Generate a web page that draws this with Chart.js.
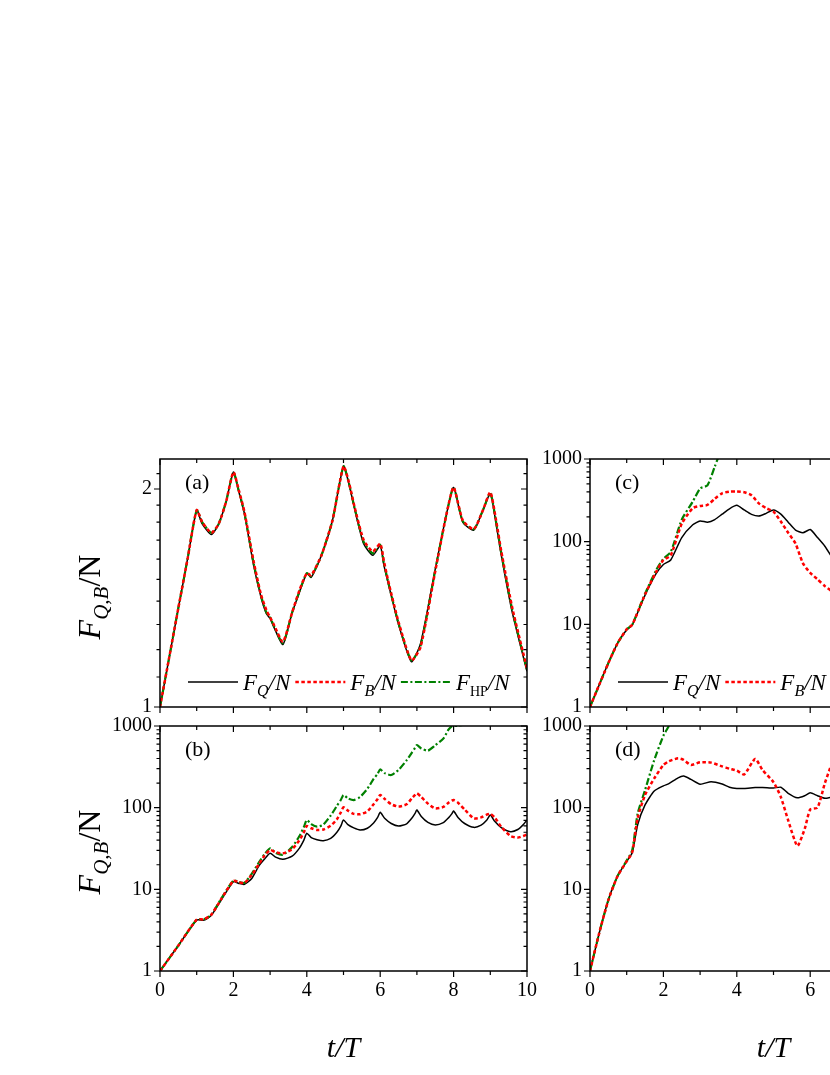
<!DOCTYPE html>
<html>
<head>
<meta charset="utf-8">
<script src="https://cdn.jsdelivr.net/npm/chart.js@4"></script>
<style>
  html, body { margin: 0; padding: 0; background: #fff; overflow: hidden; }
  canvas { position: absolute; left: 0; top: 0; }
</style>
</head>
<body>
<canvas id="pa" width="830" height="1075"></canvas>
<canvas id="pb" width="830" height="1075"></canvas>
<canvas id="pc" width="830" height="1075"></canvas>
<canvas id="pd" width="830" height="1075"></canvas>
<script>
// ---- data (t/T and F/N values) ----
const tA = [0, 0.25, 0.5, 0.75, 1, 1.15, 1.4, 1.6, 1.8, 2, 2.15, 2.3, 2.55, 2.75, 2.9, 3, 3.1, 3.35, 3.6, 3.8,
  4, 4.12, 4.4, 4.7, 5, 5.15, 5.3, 5.55, 5.8, 6, 6.1, 6.25, 6.5, 6.85, 7.1, 7.5, 7.8, 8, 8.25, 8.55, 8.8, 9, 9.15, 9.3, 9.6, 10];
const fqA = [1, 1.17, 1.37, 1.6, 1.87, 1.79, 1.73, 1.79, 1.92, 2.11, 1.98, 1.85, 1.57, 1.42, 1.345, 1.325, 1.29, 1.22, 1.35, 1.44,
  1.53, 1.51, 1.62, 1.81, 2.15, 2.03, 1.88, 1.68, 1.62, 1.67, 1.57, 1.46, 1.30, 1.155, 1.224, 1.55, 1.84, 2.01, 1.80, 1.755, 1.87, 1.97, 1.80, 1.62, 1.35, 1.12];
const fbA = [1, 1.17, 1.37, 1.6, 1.87, 1.80, 1.74, 1.79, 1.92, 2.11, 1.99, 1.86, 1.59, 1.43, 1.36, 1.33, 1.30, 1.23, 1.35, 1.45,
  1.53, 1.52, 1.62, 1.81, 2.15, 2.04, 1.89, 1.70, 1.64, 1.68, 1.59, 1.47, 1.31, 1.16, 1.21, 1.54, 1.84, 2.01, 1.81, 1.76, 1.87, 1.98, 1.82, 1.64, 1.37, 1.13];
const fhpA = [1, 1.17, 1.37, 1.6, 1.87, 1.80, 1.74, 1.79, 1.92, 2.11, 1.985, 1.855, 1.58, 1.425, 1.35, 1.33, 1.295, 1.225, 1.35, 1.445,
  1.53, 1.515, 1.62, 1.81, 2.15, 2.035, 1.885, 1.69, 1.63, 1.675, 1.58, 1.465, 1.305, 1.16, 1.215, 1.545, 1.84, 2.01, 1.805, 1.76, 1.87, 1.975, 1.81, 1.63, 1.36, 1.125];

const tB = [0, 0.5, 1, 1.2, 1.4, 1.66, 2, 2.15, 2.3, 2.5, 2.7, 2.85, 3, 3.15, 3.35, 3.6, 3.8, 3.92, 4, 4.12,
  4.28, 4.45, 4.65, 4.82, 4.93, 5, 5.12, 5.28, 5.45, 5.65, 5.82, 5.93, 6, 6.12, 6.3, 6.5, 6.72, 6.86, 6.95, 7,
  7.12, 7.3, 7.5, 7.72, 7.86, 7.95, 8, 8.12, 8.3, 8.55, 8.75, 8.9, 9, 9.12, 9.3, 9.55, 9.75, 9.9, 10];
const fqB = [1, 2.05, 4.2, 4.2, 4.8, 7.3, 12.4, 11.8, 11.5, 13.6, 19.5, 23.5, 27.6, 24.8, 23.3, 25.5, 32, 40, 48.5, 43,
  40.5, 39.4, 42, 50, 60, 70.6, 62, 56.5, 53.3, 56, 65, 76, 87.7, 74, 64, 59.6, 63.5, 74, 85, 93.6,
  78, 66, 61.3, 65.5, 75, 84, 91, 76, 64, 57.4, 61, 70, 81.3, 68, 57, 50.8, 54, 62, 70.6];
const fbB = [1, 2.05, 4.25, 4.3, 4.9, 7.5, 12.7, 12.2, 12.0, 15, 20.5, 26, 30.3, 28.5, 27.6, 31, 40, 50, 59.7, 56,
  53.3, 54, 60, 72, 88, 101, 92, 84, 83, 90, 110, 128, 143, 128, 110, 103, 110, 130, 143, 150,
  135, 112, 98, 102, 115, 122, 124, 115, 95, 74, 76, 82, 84, 76, 58, 45, 43, 45, 47];
const fhpB = [1, 2.05, 4.25, 4.3, 4.9, 7.6, 12.8, 12.3, 12.0, 15.5, 21.5, 27, 31.8, 28, 26.5, 33, 45, 58, 70.6, 63,
  58.5, 62, 80, 105, 125, 143, 130, 124, 135, 170, 225, 260, 295, 265, 251, 290, 380, 470, 540, 585,
  530, 499, 580, 700, 900, 990, 1000, 1010, 1050, 1400, null, null, null, null, null, null, null, null, null];

const tC = [0, 0.25, 0.5, 0.75, 1, 1.15, 1.5, 1.8, 2, 2.2, 2.5, 2.8, 3, 3.2, 3.4, 3.6, 3.8, 4, 4.2, 4.4,
  4.6, 4.8, 5, 5.2, 5.4, 5.6, 5.8, 6, 6.2, 6.4, 6.6];
const fqC = [1, 1.85, 3.4, 5.9, 8.6, 9.8, 22.6, 41, 53, 60, 112, 160, 178, 172, 185, 215, 250, 275, 242, 214,
  204, 220, 242, 215, 172, 138, 128, 140, 112, 88, 64];
const fbC = [1, 1.85, 3.4, 5.9, 8.7, 9.9, 23, 43, 60, 68, 165, 255, 270, 278, 330, 385, 403, 405, 396, 365,
  291, 254, 231, 175, 128, 95, 55, 42, 35, 29, 25];
const fhpC = [1, 1.85, 3.4, 5.9, 8.7, 9.9, 23.5, 45, 62, 75, 185, 305, 440, 480, 810, 1400, null, null, null, null,
  null, null, null, null, null, null, null, null, null, null, null];

const tD = [0, 0.25, 0.5, 0.75, 1, 1.15, 1.3, 1.5, 1.75, 2, 2.15, 2.4, 2.55, 2.75, 3, 3.3, 3.6, 3.8, 4, 4.2,
  4.5, 4.7, 5, 5.2, 5.4, 5.65, 5.85, 6, 6.2, 6.4, 6.6];
const fqD = [1, 2.9, 7.4, 14.5, 22, 28, 62, 108, 160, 185, 197, 232, 244, 222, 194, 208, 195, 178, 172, 172,
  176, 177, 174, 178, 150, 132, 140, 152, 140, 130, 135];
const fbD = [1, 2.9, 7.4, 14.5, 22, 28.5, 75, 143, 228, 333, 370, 402, 385, 333, 360, 356, 320, 300, 284, 255,
  395, 290, 205, 135, 70, 34, 55, 95, 100, 200, 360];
const fhpD = [1, 2.9, 7.4, 14.5, 22.5, 30, 85, 164, 383, 760, 1000, 1700, null, null, null, null, null, null, null, null,
  null, null, null, null, null, null, null, null, null, null, null];

const xMajor = [0, 2, 4, 6, 8, 10];
const logMajor = [1, 10, 100, 1000];
const logMinor = [2, 3, 4, 5, 6, 7, 8, 9, 20, 30, 40, 50, 60, 70, 80, 90, 200, 300, 400, 500, 600, 700, 800, 900];
const aMajor = [1, 2];
const aMinor = [1.1, 1.2, 1.3, 1.4, 1.5, 1.6, 1.7, 1.8, 1.9, 2.1];

const FAM = '"Liberation Serif", "Times New Roman", serif';
const seriesStyle = [
  { sub: 'Q', subItalic: true, color: '#000000', width: 1.5, dash: [], order: 3 },
  { sub: 'B', subItalic: true, color: '#ff0000', width: 2.5, dash: [3.5, 2.5], order: 1 },
  { sub: 'HP', subItalic: false, color: '#008000', width: 2.2, dash: [7, 2.5, 2, 2.5], order: 2 },
];

// draws a run of text pieces (for subscripts)
function rich(ctx, parts, x, y, align) {
  let w = 0;
  parts.forEach(p => { ctx.font = p.f; w += ctx.measureText(p.t).width; });
  let cx = align === 'center' ? x - w / 2 : x;
  parts.forEach(p => {
    ctx.font = p.f;
    ctx.fillText(p.t, cx, y + (p.dy || 0));
    cx += ctx.measureText(p.t).width;
  });
  return w;
}

const decor = {
  id: 'decor',
  afterDatasetsDraw(chart, args, o) {
    const { ctx, chartArea: a, scales: { x, y } } = chart;
    ctx.save();
    ctx.strokeStyle = '#000';
    ctx.lineWidth = 1.5;
    ctx.beginPath();
    ctx.moveTo(a.left, a.top); ctx.lineTo(a.left, a.bottom);
    ctx.moveTo(a.left - 0.75, a.bottom); ctx.lineTo(a.right + 0.75, a.bottom);
    ctx.moveTo(a.left - 0.75, a.top); ctx.lineTo(a.right + 0.75, a.top);
    if (!o.cut) { ctx.moveTo(a.right, a.top); ctx.lineTo(a.right, a.bottom); }
    ctx.stroke();

    // tick marks: bottom/left outward, top/right inward
    ctx.lineWidth = 1.2;
    ctx.beginPath();
    for (let v = 0; v <= x.max; v++) {
      const px = x.getPixelForValue(v);
      const len = v % 2 ? 4 : 6;
      ctx.moveTo(px, a.bottom); ctx.lineTo(px, a.bottom + len);
      ctx.moveTo(px, a.top); ctx.lineTo(px, a.top + len);
    }
    const yt = (list, len) => list.forEach(v => {
      const py = y.getPixelForValue(v);
      ctx.moveTo(a.left - len, py); ctx.lineTo(a.left, py);
      if (!o.cut) { ctx.moveTo(a.right - len, py); ctx.lineTo(a.right, py); }
    });
    yt(o.yMajor, 6);
    yt(o.yMinor, 3.5);
    ctx.stroke();

    ctx.fillStyle = '#000';
    ctx.textBaseline = 'alphabetic';
    ctx.textAlign = 'left';
    ctx.font = `22px ${FAM}`;
    ctx.fillText(o.label, a.left + 25, a.top + 30);

    if (o.legend) {
      let lx = a.left + 28;
      const ly = a.bottom - 25;
      chart.data.datasets.forEach((ds, i) => {
        const s = seriesStyle[i];
        ctx.strokeStyle = ds.borderColor;
        ctx.lineWidth = ds.borderWidth;
        ctx.setLineDash(ds.borderDash);
        ctx.beginPath();
        ctx.moveTo(lx, ly); ctx.lineTo(lx + 50, ly);
        ctx.stroke();
        ctx.setLineDash([]);
        lx += 55;
        const w = rich(ctx, [
          { t: 'F', f: `italic 23px ${FAM}` },
          { t: s.sub, f: `${s.subItalic ? 'italic ' : ''}${s.subItalic ? 16 : 14}px ${FAM}`, dy: 6 },
          { t: '/N', f: `italic 23px ${FAM}` },
        ], lx, ly + 8, 'left');
        lx += w + 5;
      });
    }

    if (o.yTitle) {
      ctx.save();
      ctx.translate(o.yTitle[0], o.yTitle[1]);
      ctx.rotate(-Math.PI / 2);
      rich(ctx, [
        { t: 'F', f: `italic 32px ${FAM}` },
        { t: 'Q,B', f: `italic 21px ${FAM}`, dy: 8 },
        { t: '/N', f: `32px ${FAM}` },
      ], 0, 0, 'center');
      ctx.restore();
    }
    if (o.xTitle) {
      rich(ctx, [{ t: 't/T', f: `italic 30px ${FAM}` }], (a.left + a.left + 367) / 2, 1057, 'center');
    }
    ctx.restore();
  }
};

const panels = [
  { id: 'pa', t: tA, series: [fqA, fbA, fhpA], box: [160, 459, 527, 707], xMax: 10, yMax: 2.2,
    yMajor: aMajor, yMinor: aMinor, xLabels: false, label: '(a)', legend: true, cut: false, yTitle: [100, 597], xTitle: false },
  { id: 'pb', t: tB, series: [fqB, fbB, fhpB], box: [160, 726, 527, 971], xMax: 10, yMax: 1000,
    yMajor: logMajor, yMinor: logMinor, xLabels: true, label: '(b)', legend: false, cut: false, yTitle: [100, 852], xTitle: true },
  { id: 'pc', t: tC, series: [fqC, fbC, fhpC], box: [590, 459, 830, 707], xMax: 240 / 36.7, yMax: 1000,
    yMajor: logMajor, yMinor: logMinor, xLabels: false, label: '(c)', legend: true, cut: true, yTitle: null, xTitle: false },
  { id: 'pd', t: tD, series: [fqD, fbD, fhpD], box: [590, 726, 830, 971], xMax: 240 / 36.7, yMax: 1000,
    yMajor: logMajor, yMinor: logMinor, xLabels: true, label: '(d)', legend: false, cut: true, yTitle: null, xTitle: true },
];

panels.forEach(p => {
  const datasets = p.series.map((vals, i) => ({
    data: p.t.map((t, k) => ({ x: t, y: vals[k] })),
    borderColor: seriesStyle[i].color,
    borderWidth: seriesStyle[i].width,
    borderDash: seriesStyle[i].dash,
    order: seriesStyle[i].order,
    pointRadius: 0,
    tension: 0.2,
    fill: false,
    spanGaps: false,
    borderCapStyle: 'butt',
    borderJoinStyle: 'round',
  }));

  new Chart(document.getElementById(p.id), {
    type: 'line',
    data: { datasets },
    options: {
      responsive: false,
      animation: false,
      events: [],
      layout: {
        padding: { left: p.box[0] - 60, top: p.box[1], right: 830 - p.box[2], bottom: 1075 - p.box[3] - 40 }
      },
      scales: {
        x: {
          type: 'linear', min: 0, max: p.xMax,
          grid: { display: false, drawTicks: false },
          border: { display: false },
          afterBuildTicks: s => { s.ticks = xMajor.filter(v => v <= s.max).map(v => ({ value: v })); },
          ticks: { display: p.xLabels, autoSkip: false, maxRotation: 0, padding: 8, color: '#000',
            font: { family: FAM, size: 20 } },
          afterFit: s => { s.height = 40; s.paddingLeft = 0; s.paddingRight = 0; s.paddingTop = 0; s.paddingBottom = 0; }
        },
        y: {
          type: 'logarithmic', min: 1, max: p.yMax,
          grid: { display: false, drawTicks: false },
          border: { display: false },
          afterBuildTicks: s => { s.ticks = p.yMajor.map(v => ({ value: v })); },
          ticks: { autoSkip: false, padding: 8, color: '#000', font: { family: FAM, size: 20 },
            callback: v => String(v) },
          afterFit: s => { s.width = 60; s.paddingTop = 0; s.paddingBottom = 0; s.paddingLeft = 0; s.paddingRight = 0; }
        }
      },
      plugins: {
        legend: { display: false },
        tooltip: { enabled: false },
        decor: p
      }
    },
    plugins: [decor]
  });
});
</script>
</body>
</html>
